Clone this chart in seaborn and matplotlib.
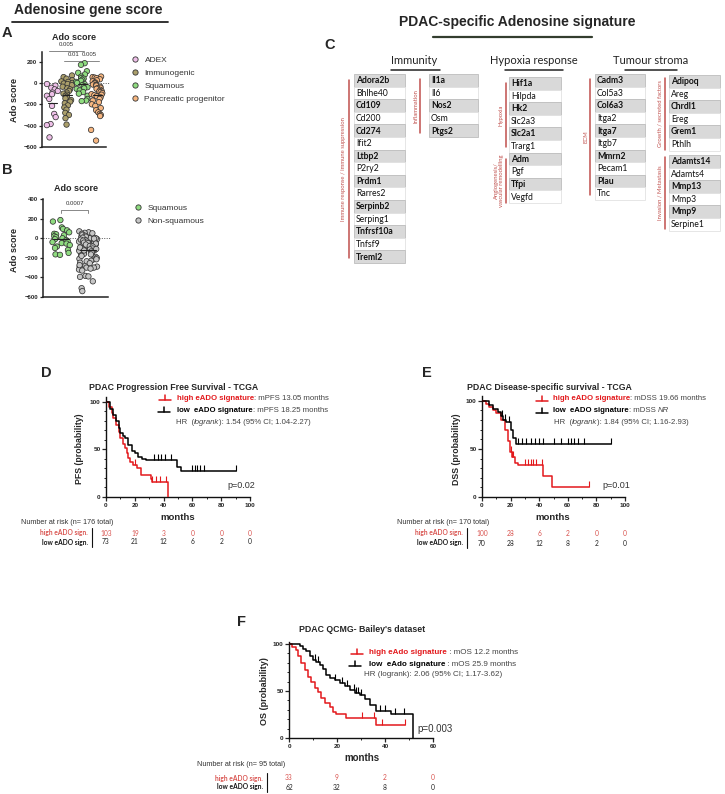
import numpy as np
import pandas as pd
import seaborn as sns
import matplotlib.pyplot as plt
from matplotlib.patches import Rectangle
from matplotlib.lines import Line2D
from matplotlib.ticker import MultipleLocator
import matplotlib.transforms as mtrans

W, H = 725, 794

# ---- A / B : adenosine score per PDAC subtype
subtypes = ['ADEX', 'Immunogenic', 'Squamous', 'Pancreatic progenitor']
adex = [-10, -25, -45, -60, -75, -90, -105, -120, -150, -215, -290, -320, -385, -395, -510]
immunogenic = [70, 55, 40, 25, 15, 10, 0, -5, -10, -20, -35, -50, -60, -75, -90, -100, -110,
               -120, -130, -145, -160, -175, -190, -210, -230, -250, -280, -300, -330, -390]
squamous = [185, 170, 110, 95, 80, 60, 45, 40, 30, 20, 10, 0, -10, -20, -30, -40, -50, -55,
            -70, -85, -100, -120, -150, -165, -170]
progenitor = [60, 55, 50, 45, 35, 25, 15, 5, 0, -5, -15, -20, -25, -35, -45, -50, -55, -65,
              -75, -80, -85, -95, -105, -110, -115, -125, -135, -150, -165, -180, -200, -215,
              -235, -255, -275, -290, -300, -310, -440, -540]
subtype_colors = ['#eebfe8', '#ab9f6b', '#8fdc80', '#f7b680']
pairs_a = [(0, 2), (1, 2), (2, 3)]
pvals_a = ['0.005', '0.01', '0.005']
classes_b = ['Squamous', 'Non-squamous']
colors_b = ['#8fdc80', '#c6c6c6']
pval_b = '0.0007'

# ---- C : genes of the signature
immune_genes = ['Adora2b', 'Bhlhe40', 'Cd109', 'Cd200', 'Cd274', 'Ifit2', 'Ltbp2', 'P2ry2',
                'Prdm1', 'Rarres2', 'Serpinb2', 'Serping1', 'Tnfrsf10a', 'Tnfsf9', 'Treml2']
inflam_genes = ['Il1a', 'Il6', 'Nos2', 'Osm', 'Ptgs2']
hypoxia_genes = ['Hif1a', 'Hilpda', 'Hk2', 'Slc2a3', 'Slc2a1', 'Trarg1', 'Adm', 'Pgf', 'Tfpi', 'Vegfd']
ecm_genes = ['Cadm3', 'Col5a3', 'Col6a3', 'Itga2', 'Itga7', 'Itgb7', 'Mmrn2', 'Pecam1', 'Plau', 'Tnc']
growth_genes = ['Adipoq', 'Areg', 'Chrdl1', 'Ereg', 'Grem1', 'Pthlh']
invasion_genes = ['Adamts14', 'Adamts4', 'Mmp13', 'Mmp3', 'Mmp9', 'Serpine1']

# ---- D : PFS TCGA (months, % surviving)
pfs_hi_t = [0, 2, 4, 5, 7, 9, 10, 12, 13, 14.5, 15.5, 17, 19, 21.3, 24, 31, 32, 43]
pfs_hi_s = [100, 95, 88, 83, 76, 68, 62, 56, 51, 46, 41, 37, 34, 30, 23, 19, 16, 0]
pfs_hi_c = [20, 32, 35, 37.5, 41.5]
pfs_lo_t = [0, 3, 5, 7, 9, 10, 12, 13, 15, 18, 20, 22, 25, 28, 49, 52]
pfs_lo_s = [100, 92, 86, 80, 72, 67, 64, 62, 55, 48, 46, 42, 40, 39, 32, 27]
pfs_lo_c = [33, 36, 38.5, 41, 45, 59.5, 61.5, 63.5, 65.5, 68, 90]
pfs_lo_end = 90
risk_d_hi = [103, 19, 3, 0, 0, 0]
risk_d_lo = [73, 21, 12, 6, 2, 0]

# ---- E : DSS TCGA
dss_hi_t = [0, 3, 5, 8, 10, 13, 16, 18, 19.5, 21, 23, 25, 43, 49]
dss_hi_s = [100, 97, 94, 90, 87, 80, 70, 58, 47, 42, 35, 33, 22, 10]
dss_hi_c = [20, 21, 22, 30, 32, 34, 36, 38, 42, 75]
dss_hi_end = 75
dss_lo_t = [0, 5, 8, 11, 13, 15, 17, 20, 22, 23.5]
dss_lo_s = [100, 96, 92, 88, 84, 80, 78, 70, 61, 55]
dss_lo_c = [14, 16, 19, 25, 28, 31, 34, 37, 40, 43, 50, 55, 60, 62, 64, 67, 71, 90]
dss_lo_end = 90
risk_e_hi = [100, 28, 6, 2, 0, 0]
risk_e_lo = [70, 28, 12, 8, 2, 0]

# ---- F : OS Bailey
os_hi_t = [0, 1.4, 2.8, 3.8, 5.1, 6.5, 7.9, 9.3, 10.7, 12.1, 13.5, 14.9, 17, 18.3, 19.7, 23.6, 36.4]
os_hi_s = [100, 97, 94, 87, 80, 72, 65, 60, 53, 49, 42, 37, 33, 28, 25, 21, 14]
os_hi_c = [30.6, 35.3, 38.8, 48.2]
os_hi_end = 48.2
os_lo_t = [0, 4.5, 5.8, 7.2, 8.6, 10, 11.4, 12.8, 14.2, 15.6, 17, 19, 21.3, 23.4, 25.5, 27.6,
           29.7, 31.8, 33.9, 36.4, 42.6, 51.7]
os_lo_s = [100, 98, 95, 92, 87, 83, 81, 78, 73, 67, 64, 62, 58, 55, 51, 48, 46, 41, 35, 29, 25, 0]
os_lo_c = [11, 12, 19, 22, 24, 27, 28, 28.6, 30, 38, 40, 44, 48]
risk_f_hi = [33, 9, 2, 0]
risk_f_lo = [62, 32, 8, 0]

RED = '#e3191c'
GREY_TXT = '#444444'

sns.set_theme(style='ticks')
plt.rcParams['font.family'] = ['Liberation Sans', 'DejaVu Sans']
np.random.seed(7)  # only for the horizontal jitter of the dot plots

fig = plt.figure(figsize=(W / 100, H / 100), dpi=100)
bg = fig.add_axes([0, 0, 1, 1])
bg.set_xlim(0, W)
bg.set_ylim(H, 0)
bg.axis('off')


def px_axes(x0, y0, x1, y1):
    ax = fig.add_axes([x0 / W, 1 - y1 / H, (x1 - x0) / W, (y1 - y0) / H])
    ax.set_facecolor('none')
    return ax


def chain(x, y, parts, size):
    prev = None
    for s, kw in parts:
        if prev is None:
            prev = bg.text(x, y, s, fontsize=size, va='center', ha='left', **kw)
        else:
            prev = bg.annotate(s, xy=(1, 0.5), xycoords=prev, va='center', ha='left',
                               fontsize=size, **kw)


def style_dot_axes(ax):
    sns.despine(ax=ax)
    ax.set_xticks([])
    ax.set_xlabel('')
    ax.set_ylabel('')
    for sp in ax.spines.values():
        sp.set_linewidth(1.1)
        sp.set_color('#222222')
    ax.tick_params(axis='y', length=2.5, width=0.9, pad=1, labelsize=4.3)
    for lab in ax.get_yticklabels():
        lab.set_fontweight('bold')
    ax.axhline(0, ls=(0, (1, 1.5)), color='#555555', lw=0.7, zorder=0, xmax=1.05, clip_on=False)


# ---------------- headers
bg.text(88, 10, 'Adenosine gene score', fontsize=10, fontweight='bold', ha='center', va='center')
bg.plot([12, 168], [22, 22], color='#222222', lw=1.3)
bg.text(517, 22, 'PDAC-specific Adenosine signature', fontsize=10, fontweight='bold',
        ha='center', va='center')
bg.plot([433, 592], [37, 37], color='#333d2e', lw=1.6)
for letter, (lx, ly) in zip('ABCDEF', [(7, 33), (7, 170), (330, 45), (46, 373), (427, 373), (242, 622)]):
    bg.text(lx, ly, letter, fontsize=10.5, fontweight='bold', ha='center', va='center')

# ---------------- A
df_a = pd.DataFrame({
    'subtype': ['ADEX'] * len(adex) + ['Immunogenic'] * len(immunogenic)
               + ['Squamous'] * len(squamous) + ['Pancreatic progenitor'] * len(progenitor),
    'score': adex + immunogenic + squamous + progenitor,
})
ax_a = px_axes(42, 52, 106, 147)
sns.stripplot(data=df_a, x='subtype', y='score', hue='subtype', order=subtypes,
              hue_order=subtypes, palette=subtype_colors, size=3.9, edgecolor='#333333',
              linewidth=0.55, jitter=0.4, legend=False, ax=ax_a)
means_a = df_a.groupby('subtype')['score'].mean().reindex(subtypes)
for i, m in enumerate(means_a):
    ax_a.plot([i - 0.3, i + 0.3], [m, m], color='#222222', lw=0.8, zorder=5)
ax_a.set_xlim(-0.67, 3.6)
ax_a.set_ylim(-600, 290)
ax_a.set_yticks([-600, -400, -200, 0, 200])
style_dot_axes(ax_a)
ax_a.set_title('Ado score', fontsize=6.5, fontweight='bold', pad=8.5)
bg.text(15, 100, 'Ado score', rotation=90, fontsize=6.5, fontweight='bold', ha='center', va='center')
for (g0, g1), p, yb in zip(pairs_a, pvals_a, [298, 205, 205]):
    ax_a.plot([g0 - 0.2, g1 + 0.1], [yb, yb], color='#888888', lw=0.7, clip_on=False)
    ax_a.text((g0 + g1) / 2 - 0.05, yb + 40, p, fontsize=4.3, ha='center', va='bottom',
              color='#333333', clip_on=False)
ax_a.legend(handles=[Line2D([], [], marker='o', ls='none', markerfacecolor=c, markeredgecolor='#333333',
                            markeredgewidth=0.6, markersize=3.8) for c in subtype_colors],
            labels=subtypes, loc='upper left', bbox_to_anchor=(127 / W, 1 - 53 / H),
            bbox_transform=fig.transFigure, frameon=False, fontsize=6, handlelength=1,
            handletextpad=0.7, labelspacing=0.62, labelcolor='#333333', borderaxespad=0)

# ---------------- B
df_b = pd.DataFrame({
    'cls': ['Squamous'] * len(squamous) + ['Non-squamous'] * (len(adex) + len(immunogenic) + len(progenitor)),
    'score': squamous + adex + immunogenic + progenitor,
})
ax_b = px_axes(43, 199, 108, 297)
sns.stripplot(data=df_b, x='cls', y='score', hue='cls', order=classes_b, hue_order=classes_b,
              palette=colors_b, size=3.9, edgecolor='#333333', linewidth=0.55, jitter=0.34,
              legend=False, ax=ax_b)
means_b = df_b.groupby('cls')['score'].mean().reindex(classes_b)
for i, m in enumerate(means_b):
    ax_b.plot([i - 0.3, i + 0.3], [m, m], color='#222222', lw=0.8, zorder=5)
ax_b.set_xlim(-0.67, 1.74)
ax_b.set_ylim(-600, 400)
ax_b.set_yticks([-600, -400, -200, 0, 200, 400])
style_dot_axes(ax_b)
ax_b.set_title('Ado score', fontsize=6.5, fontweight='bold', pad=6)
bg.text(15, 250, 'Ado score', rotation=90, fontsize=6.5, fontweight='bold', ha='center', va='center')
ax_b.plot([0, 0, 1, 1], [255, 290, 290, 255], color='#888888', lw=0.7, clip_on=False)
ax_b.text(0.5, 330, pval_b, fontsize=4.3, ha='center', va='bottom', color='#333333', clip_on=False)
ax_b.legend(handles=[Line2D([], [], marker='o', ls='none', markerfacecolor=c, markeredgecolor='#333333',
                            markeredgewidth=0.6, markersize=3.8) for c in colors_b],
            labels=classes_b, loc='upper left', bbox_to_anchor=(130 / W, 1 - 201 / H),
            bbox_transform=fig.transFigure, frameon=False, fontsize=6, handlelength=1,
            handletextpad=0.7, labelspacing=0.62, labelcolor='#333333', borderaxespad=0)

# ---------------- C
for name, cx, ux0, ux1 in [('Immunity', 414, 391, 440), ('Hypoxia response', 534, 505, 563),
                           ('Tumour stroma', 651, 625, 677)]:
    bg.text(cx, 61, name, family='Lato', fontsize=8, ha='center', va='center', color='#222222')
    bg.plot([ux0, ux1], [70, 70], color='#222222', lw=1.1)

row_h = 12.6
tables = [(354, 405, 74, immune_genes), (429, 478, 74, inflam_genes), (509, 561, 77, hypoxia_genes),
          (595, 645, 74, ecm_genes), (669, 720, 75, growth_genes), (669, 720, 155, invasion_genes)]
for x0, x1, top, genes in tables:
    for i, g in enumerate(genes):
        shaded = i % 2 == 0
        y = top + i * row_h
        bg.add_patch(Rectangle((x0, y), x1 - x0, row_h, facecolor='#d9d9d9' if shaded else 'white',
                               edgecolor='#bdbdbd' if shaded else '#e2e2e2', lw=0.6))
        bg.text(x0 + 2, y + row_h / 2 + 0.3, g, family='Lato', fontsize=6.2, va='center', ha='left',
                fontweight='bold' if shaded else 'normal', color='#111111')

bracket_c = [(349, 80, 258, 344, 'Immune response / immune suppression'),
             (420, 79, 133, 416, 'Inflammation'),
             (506, 83, 147, 501, 'Hypoxia'),
             (506, 159, 203, 499, 'Angiogenesis/\nvascular remodelling'),
             (590, 79, 195, 586, 'ECM'),
             (665, 78, 150, 660, 'Growth / secreted factors'),
             (665, 157, 229, 660, 'Invasion / Metastasis')]
for lx, y0, y1, tx, lab in bracket_c:
    bg.plot([lx, lx], [y0, y1], color='#c0504d', lw=1.1)
    bg.text(tx, (y0 + y1) / 2, lab, rotation=90, fontsize=4.2, color='#c0504d', ha='center',
            va='center', family='Lato', linespacing=1.0)


# ---------------- survival panels
def km_curve(ax, t, s, cens, color, end=None):
    t = list(t)
    s = list(s)
    if end is not None and end > t[-1]:
        t = t + [end]
        s = s + [s[-1]]
    ax.step(t, s, where='post', color=color, lw=1.1, zorder=3)
    idx = np.searchsorted(np.array(t), np.array(cens), side='right') - 1
    ax.plot(cens, np.array(s)[idx], ls='none', marker=2, ms=4, mew=0.8, color=color, zorder=3)


def km_axes(x0, ytop, x1, y0, xmax, ytop_val):
    ax = px_axes(x0, ytop, x1, y0)
    ax.set_xlim(0, xmax)
    ax.set_ylim(0, ytop_val)
    sns.despine(ax=ax)
    for sp in ax.spines.values():
        sp.set_linewidth(1.0)
        sp.set_color('#111111')
    ax.set_xticks(np.arange(0, xmax + 1, 20))
    ax.set_yticks([0, 50, 100])
    ax.xaxis.set_minor_locator(MultipleLocator(10))
    ax.yaxis.set_minor_locator(MultipleLocator(10))
    ax.tick_params(which='major', length=3, width=0.9, pad=1, labelsize=4.6)
    ax.tick_params(which='minor', length=1.6, width=0.7)
    for lab in ax.get_xticklabels() + ax.get_yticklabels():
        lab.set_fontweight('bold')
    return ax


def legend_symbol(x, y, color):
    bg.plot([x - 6, x + 6], [y + 2, y + 2], color=color, lw=1.1)
    bg.plot([x, x], [y + 2, y - 3], color=color, lw=1.1)


def risk_table(ax, ticks, hi, lo, xlab, y_hi, y_lo, bar_x, title_x, title_y, title):
    tr = mtrans.blended_transform_factory(ax.transData, bg.transData)
    for tk, a, b in zip(ticks, hi, lo):
        ax.text(tk, y_hi, str(a), transform=tr, fontsize=4.8, ha='center', va='center',
                color='#d9534f', family='Lato', clip_on=False)
        ax.text(tk, y_lo, str(b), transform=tr, fontsize=4.8, ha='center', va='center',
                color='#222222', family='Lato', clip_on=False)
    bg.text(xlab, y_hi, 'high eADO sign.', fontsize=4.8, fontweight='bold', color='#d9534f',
            ha='right', va='center', family='Lato')
    bg.text(xlab, y_lo, 'low eADO sign.', fontsize=4.8, fontweight='bold', color='#111111',
            ha='right', va='center', family='Lato')
    bg.plot([bar_x, bar_x], [y_hi - 5, y_lo + 5], color='#111111', lw=0.8)
    bg.text(title_x, title_y, title, fontsize=5.2, color='#333333', ha='left', va='center')


# D
ax_d = km_axes(106, 397, 250, 497, 100, 105)
km_curve(ax_d, pfs_hi_t, pfs_hi_s, pfs_hi_c, RED)
km_curve(ax_d, pfs_lo_t, pfs_lo_s, pfs_lo_c, 'black', pfs_lo_end)
bg.text(89, 388, 'PDAC Progression Free Survival - TCGA', fontsize=6.3, fontweight='bold', va='center')
legend_symbol(165, 398, RED)
chain(177, 398, [('high eADO signature', dict(color=RED, fontweight='bold')),
                 (': mPFS 13.05 months', dict(color=GREY_TXT))], 5.6)
legend_symbol(164, 410, 'black')
chain(177, 410, [('low  eADO signature', dict(color='black', fontweight='bold')),
                 (': mPFS 18.25 months', dict(color=GREY_TXT))], 5.6)
chain(176, 423, [('HR  (', dict(color=GREY_TXT)), ('logrank', dict(color=GREY_TXT, style='italic')),
                 ('): 1.54 (95% CI; 1.04-2.27)', dict(color=GREY_TXT))], 5.6)
bg.text(227, 486, 'p=0.02', fontsize=6.5, color='#333333', va='center')
bg.text(80, 449, 'PFS (probability)', rotation=90, fontsize=6.3, fontweight='bold', ha='center', va='center')
bg.text(178, 517, 'months', fontsize=6.8, fontweight='bold', ha='center', va='center')
risk_table(ax_d, range(0, 101, 20), risk_d_hi, risk_d_lo, 88, 533, 542, 92, 21, 523,
           'Number at risk (n= 176 total)')

# E
ax_e = km_axes(482, 396, 625, 497, 100, 105)
km_curve(ax_e, dss_hi_t, dss_hi_s, dss_hi_c, RED, dss_hi_end)
km_curve(ax_e, dss_lo_t, dss_lo_s, dss_lo_c, 'black', dss_lo_end)
bg.text(467, 388, 'PDAC Disease-specific survival - TCGA', fontsize=6.3, fontweight='bold', va='center')
legend_symbol(542, 399, RED)
chain(553, 399, [('high eADO signature', dict(color=RED, fontweight='bold')),
                 (': mDSS 19.66 months', dict(color=GREY_TXT))], 5.6)
legend_symbol(542, 411, 'black')
chain(553, 411, [('low  eADO signature', dict(color='black', fontweight='bold')),
                 (': mDSS ', dict(color=GREY_TXT)), ('NR', dict(color=GREY_TXT, style='italic'))], 5.6)
chain(554, 423, [('HR  (', dict(color=GREY_TXT)), ('logrank', dict(color=GREY_TXT, style='italic')),
                 ('): 1.84 (95% CI; 1.16-2.93)', dict(color=GREY_TXT))], 5.6)
bg.text(602, 485, 'p=0.01', fontsize=6.5, color='#333333', va='center')
bg.text(457, 449, 'DSS (probability)', rotation=90, fontsize=6.3, fontweight='bold', ha='center', va='center')
bg.text(553, 517, 'months', fontsize=6.8, fontweight='bold', ha='center', va='center')
risk_table(ax_e, range(0, 101, 20), risk_e_hi, risk_e_lo, 463, 533, 543, 467, 397, 523,
           'Number at risk (n= 170 total)')

# F
ax_f = km_axes(289, 642, 433, 738, 60, 102)
km_curve(ax_f, os_hi_t, os_hi_s, os_hi_c, RED, os_hi_end)
km_curve(ax_f, os_lo_t, os_lo_s, os_lo_c, 'black')
bg.text(362, 629, "PDAC QCMG- Bailey's dataset", fontsize=6.3, fontweight='bold', ha='center', va='center')
legend_symbol(357, 652, RED)
chain(369, 652, [('high eAdo signature', dict(color=RED, fontweight='bold')),
                 (' : mOS 12.2 months', dict(color=GREY_TXT))], 5.8)
legend_symbol(355, 664, 'black')
chain(369, 664, [('low  eAdo signature', dict(color='black', fontweight='bold')),
                 (' : mOS 25.9 months', dict(color=GREY_TXT))], 5.8)
chain(364, 675, [('HR (logrank): 2.06 (95% CI; 1.17-3.62)', dict(color=GREY_TXT))], 5.8)
bg.text(417, 729, 'p=0.003', fontsize=7, color='#333333', va='center')
bg.text(265, 691, 'OS (probability)', rotation=90, fontsize=6.5, fontweight='bold', ha='center', va='center')
bg.text(362, 758, 'months', fontsize=7, fontweight='bold', ha='center', va='center')
risk_table(ax_f, range(0, 61, 20), risk_f_hi, risk_f_lo, 263, 778, 787, 267, 197, 764,
           'Number at risk (n= 95 total)')

fig.savefig('out.png', dpi=100)
